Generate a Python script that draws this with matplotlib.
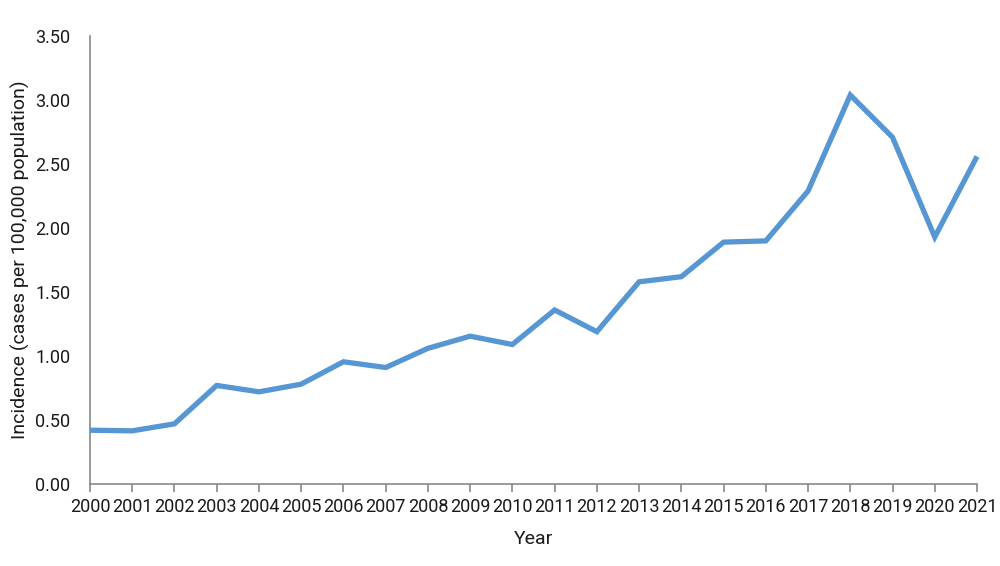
import matplotlib
matplotlib.use("Agg")
import matplotlib.pyplot as plt

years = list(range(2000, 2022))
incidence = [0.42, 0.415, 0.47, 0.77, 0.72, 0.78, 0.955, 0.91, 1.06, 1.155, 1.09, 1.36,
             1.19, 1.58, 1.62, 1.89, 1.90, 2.29, 3.04, 2.71, 1.93, 2.56]
yticks = [0.0, 0.5, 1.0, 1.5, 2.0, 2.5, 3.0, 3.5]

plt.rcParams['font.family'] = ['Roboto', 'DejaVu Sans']

fig = plt.figure(figsize=(10, 5.66), dpi=100)
ax = fig.add_axes([0.09, 0.145, 0.887, 0.791])
ax.plot(years, incidence, color='#5596D3', lw=3.8, solid_joinstyle='miter',
        solid_capstyle='butt', clip_on=False, zorder=3)
ax.set_xlim(years[0], years[-1])
ax.set_ylim(0, 3.5)
ax.set_xticks(years)
ax.set_xticklabels([str(y) for y in years])
ax.set_yticks(yticks)
ax.set_yticklabels([f"{v:.2f}" for v in yticks])
for s in ['top', 'right']:
    ax.spines[s].set_visible(False)
for s in ['left', 'bottom']:
    ax.spines[s].set_color('#888888')
    ax.spines[s].set_linewidth(1.2)
ax.tick_params(axis='x', length=6, width=1.2, color='#888888', labelsize=13, pad=4, labelcolor='#1a1a1a')
ax.tick_params(axis='y', length=0, labelsize=13, pad=14, labelcolor='#1a1a1a')
ax.set_xlabel('Year', fontsize=14, color='#1a1a1a', labelpad=10)
ax.set_ylabel('Incidence (cases per 100,000 population)', fontsize=14, color='#1a1a1a', labelpad=4)
fig.savefig('out.png', dpi=100)
